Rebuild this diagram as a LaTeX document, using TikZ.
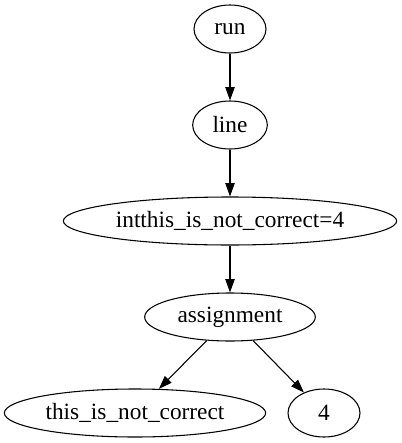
\documentclass[tikz,border=0pt]{standalone}
\usepackage{fontspec}
\setmainfont{Liberation Serif}
\usetikzlibrary{arrows.meta,shapes.geometric}
\begin{document}
\begin{tikzpicture}[x=0.75pt,y=-0.75pt,
  gnode/.style={draw,ellipse,line width=0.8pt,inner sep=0pt,minimum height=36pt,font=\fontsize{17.5}{20}\selectfont},
  edge/.style={draw,line width=0.8pt,-{Triangle[length=10pt,width=7pt]}}]
\useasboundingbox (0,0) rectangle (401,443);
\node[gnode,minimum width=54pt] (run) at (230,29) {run};
\node[gnode,minimum width=56pt] (line) at (230,125) {line};
\node[gnode,minimum width=250pt] (decl) at (230,221) {intthis\_is\_not\_correct=4};
\node[gnode,minimum width=128pt] (assign) at (230,317) {assignment};
\node[gnode,minimum width=196pt] (name) at (135,413) {this\_is\_not\_correct};
\node[gnode,minimum width=54pt] (four) at (324,413) {4};
\draw[edge] (run) -- (line);
\draw[edge] (line) -- (decl);
\draw[edge] (decl) -- (assign);
\draw[edge] (assign) -- (name);
\draw[edge] (assign) -- (four);
\end{tikzpicture}
\end{document}
